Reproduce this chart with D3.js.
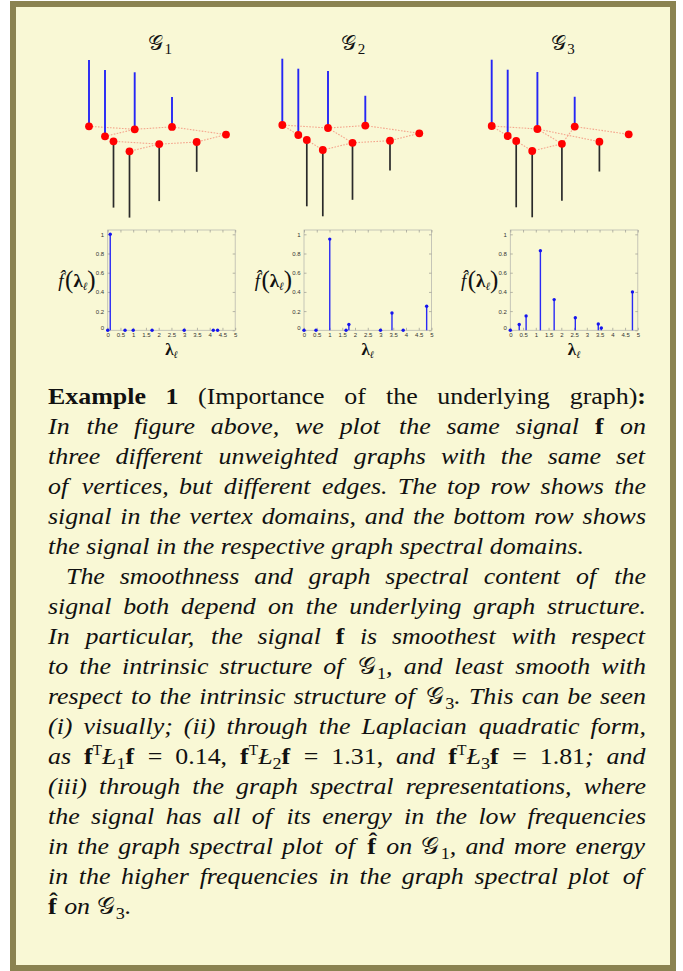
<!DOCTYPE html>
<html><head><meta charset="utf-8">
<script src="https://cdn.jsdelivr.net/npm/d3@7/dist/d3.min.js"></script>
<style>
body{margin:0;background:#fff}
svg{display:block}
</style></head><body>
<script>
// ================= DATA =================
const graphTitles = ["1", "2", "3"];             // subscripts of 𝒢
// vertex layout (shared by the three graphs, projected 3-D layout units)
const vertexX = [0, 16, 24.5, 40.5, 45.7, 70.2, 83, 107.7, 137];
const vertexY = [0, 10, 15, 25, 3, 17.8, 0.6, 15.7, 8.3];
// the signal f on the vertices
const signal = [1, 1, -1, -1, 0.86, -0.86, 0.45, -0.45, 0];
// edges of the three graphs
const edgesG1 = [[0,4],[1,4],[1,2],[4,6],[6,8],[8,7],[7,5],[5,2],[5,3]];
const edgesG2 = [[0,4],[0,1],[1,2],[2,3],[3,5],[4,5],[4,6],[6,8],[8,7],[7,5]];
const edgesG3 = [[0,4],[0,1],[1,2],[2,3],[3,5],[5,6],[6,8],[4,7],[4,5]];
// graph spectra and graph Fourier coefficients
const lambdaG1 = [0, 0.1, 0.68, 1.0, 1.74, 3.0, 4.14, 4.31];
const fhatG1   = [0, 1, 0, 0, 0, 0, 0, 0];
const lambdaG2 = [0, 0.47, 1.01, 1.65, 1.76, 3.0, 3.45, 3.89, 4.81];
const fhatG2   = [0, 0, 0.95, 0, 0.06, 0, 0.18, 0, 0.25];
const lambdaG3 = [0, 0.35, 0.62, 1.18, 1.72, 2.55, 3.45, 3.57, 4.79];
const fhatG3   = [0, 0.06, 0.15, 0.83, 0.32, 0.13, 0.065, 0.025, 0.40];
const xTicks = [0, 0.5, 1, 1.5, 2, 2.5, 3, 3.5, 4, 4.5, 5];
const yTicks = [0, 0.2, 0.4, 0.6, 0.8, 1];
// caption text (markup: {style:text})
const captionLines = [
  {d:"n", j:true,  ind:0,  t:"{b:Example} {b:1} (Importance of the underlying graph){b::}"},
  {d:"i", j:true,  ind:0,  t:"In the figure above, we plot the same signal {b:f} on"},
  {d:"i", j:true,  ind:0,  t:"three different unweighted graphs with the same set"},
  {d:"i", j:true,  ind:0,  t:"of vertices, but different edges. The top row shows the"},
  {d:"i", j:true,  ind:0,  t:"signal in the vertex domains, and the bottom row shows"},
  {d:"i", j:false, ind:0,  t:"the signal in the respective graph spectral domains."},
  {d:"i", j:true,  ind:18, t:"The smoothness and graph spectral content of the"},
  {d:"i", j:true,  ind:0,  t:"signal both depend on the underlying graph structure."},
  {d:"i", j:true,  ind:0,  t:"In particular, the signal {b:f} is smoothest with respect"},
  {d:"i", j:true,  ind:0,  t:"to the intrinsic structure of {cal:𝒢}{sub:1}, and least smooth with"},
  {d:"i", j:true,  ind:0,  t:"respect to the intrinsic structure of {cal:𝒢}{sub:3}. This can be seen"},
  {d:"i", j:true,  ind:0,  t:"(i) visually; (ii) through the Laplacian quadratic form,"},
  {d:"i", j:true,  ind:0,  t:"as {b:f}{sup:T}Ł{sub:1}{b:f} {n:=} {n:0.14,} {b:f}{sup:T}Ł{sub:2}{b:f} {n:=} {n:1.31,} and {b:f}{sup:T}Ł{sub:3}{b:f} {n:=} {n:1.81}; and"},
  {d:"i", j:true,  ind:0,  t:"(iii) through the graph spectral representations, where"},
  {d:"i", j:true,  ind:0,  t:"the signal has all of its energy in the low frequencies"},
  {d:"i", j:true,  ind:0,  t:"in the graph spectral plot of {hat:f̂} on {cal:𝒢}{sub:1}, and more energy"},
  {d:"i", j:true,  ind:0,  t:"in the higher frequencies in the graph spectral plot of"},
  {d:"i", j:false, ind:0,  t:"{hat:f̂} on {cal:𝒢}{sub:3}."}
];

// ================= LAYOUT =================
const W = 683, H = 971;
const svg = d3.select("body").append("svg").attr("width", W).attr("height", H);
svg.append("rect").attr("x",10).attr("y",1).attr("width",666).attr("height",970).attr("fill","#8b8351");
svg.append("rect").attr("x",16).attr("y",7).attr("width",654).attr("height",958).attr("fill","#f9f8d5");

const SERIF = "'Liberation Serif','Times New Roman',serif";
const CAL = "'DejaVu Serif','DejaVu Sans',serif";

// ---------- top row: signals on graphs ----------
const graphs = [edgesG1, edgesG2, edgesG3];
const graphOrigins = [[89,126.3],[282.3,125],[491.7,126]];
const stemLen = d3.scaleLinear().domain([0,1]).range([0,66.3]);
graphs.forEach((edges, gi) => {
  const [ox, oy] = graphOrigins[gi];
  const sx = d3.scaleLinear().domain([0,137]).range([ox, ox+137]);
  const sy = d3.scaleLinear().domain([0,25]).range([oy, oy+25]);
  const g = svg.append("g");
  // title
  const tt = g.append("text").attr("x", sx(71)).attr("y", 50).attr("text-anchor","middle")
    .attr("font-family", SERIF).attr("font-size", 21).attr("fill","#111");
  tt.append("tspan").attr("font-family", CAL).text("𝒢");
  tt.append("tspan").attr("font-size", 15).attr("dx", 1.5).attr("dy", 4).text(graphTitles[gi]);
  const pts = signal.map((v,i)=>({v,i}));
  // stems below (negative)
  g.selectAll("line.neg").data(pts.filter(d=>d.v<0)).join("line")
    .attr("x1", d=>sx(vertexX[d.i])).attr("x2", d=>sx(vertexX[d.i]))
    .attr("y1", d=>sy(vertexY[d.i])).attr("y2", d=>sy(vertexY[d.i]) + stemLen(-d.v))
    .attr("stroke","#2a2a2a").attr("stroke-width",1.7);
  // edges
  g.selectAll("line.edge").data(edges).join("line")
    .attr("x1", d=>sx(vertexX[d[0]])).attr("y1", d=>sy(vertexY[d[0]]))
    .attr("x2", d=>sx(vertexX[d[1]])).attr("y2", d=>sy(vertexY[d[1]]))
    .attr("stroke","#f4a58c").attr("stroke-width",1.1).attr("stroke-dasharray","1.6,1.4");
  // stems above (positive)
  g.selectAll("line.pos").data(pts.filter(d=>d.v>0)).join("line")
    .attr("x1", d=>sx(vertexX[d.i])).attr("x2", d=>sx(vertexX[d.i]))
    .attr("y1", d=>sy(vertexY[d.i])).attr("y2", d=>sy(vertexY[d.i]) - stemLen(d.v))
    .attr("stroke","#2626f5").attr("stroke-width",1.9);
  // vertices
  g.selectAll("circle").data(pts).join("circle")
    .attr("cx", d=>sx(vertexX[d.i])).attr("cy", d=>sy(vertexY[d.i]))
    .attr("r", 3.9).attr("fill","#ff0000");
});

// ---------- bottom row: spectral plots ----------
const spectra = [[lambdaG1,fhatG1],[lambdaG2,fhatG2],[lambdaG3,fhatG3]];
const specLeft = [107.7, 304, 510.3], specW = 127.5, specTop = 230, specBot = 330.3;
const SANS = "'Liberation Sans',Arial,sans-serif";
spectra.forEach(([lam, fh], pi) => {
  const L = specLeft[pi];
  const x = d3.scaleLinear().domain([0,5]).range([L, L+specW]);
  const y = d3.scaleLinear().domain([0,1.045]).range([specBot, specTop]);
  const g = svg.append("g");
  g.append("rect").attr("x",L).attr("y",specTop).attr("width",specW).attr("height",specBot-specTop)
    .attr("fill","none").attr("stroke","#b9b9b0").attr("stroke-width",0.8);
  const styleAxis = sel => {
    sel.select(".domain").remove();
    sel.selectAll(".tick line").attr("stroke","#9a9a90").attr("stroke-width",0.7);
    sel.selectAll(".tick text").attr("fill","#333").attr("font-family",SANS).attr("font-size",6);
  };
  g.append("g").attr("transform",`translate(0,${specBot})`)
    .call(d3.axisBottom(x).tickValues(xTicks).tickSize(-2.5).tickPadding(2.5).tickFormat(d=>String(d))).call(styleAxis);
  g.append("g").attr("transform",`translate(0,${specTop})`)
    .call(d3.axisTop(x).tickValues(xTicks).tickSize(-2.5).tickFormat("")).call(styleAxis);
  g.append("g").attr("transform",`translate(${L},0)`)
    .call(d3.axisLeft(y).tickValues(yTicks).tickSize(-2.5).tickPadding(3.5).tickFormat(d=>String(d))).call(styleAxis)
    .selectAll(".tick text").attr("dy", d => d === 0 ? "-0.1em" : "0.32em");
  g.append("g").attr("transform",`translate(${L+specW},0)`)
    .call(d3.axisRight(y).tickValues(yTicks).tickSize(-2.5).tickFormat("")).call(styleAxis);
  const pts = lam.map((l,i)=>({l, v:fh[i]}));
  g.selectAll("line.stem").data(pts).join("line")
    .attr("x1", d=>x(d.l)).attr("x2", d=>x(d.l)).attr("y1", y(0)).attr("y2", d=>y(d.v))
    .attr("stroke","#2a2af5").attr("stroke-width",1.4);
  g.selectAll("circle").data(pts).join("circle")
    .attr("cx", d=>x(d.l)).attr("cy", d=>y(d.v)).attr("r",1.7).attr("fill","#1515ee");
  // y label  f̂(λℓ)
  const yl = g.append("text").attr("x", L-12).attr("y", 287).attr("text-anchor","end")
    .attr("font-family", SERIF).attr("font-size", 19).attr("fill","#111");
  yl.append("tspan").attr("font-style","italic").text("f̂");
  yl.append("tspan").attr("font-size",25).attr("dx",1.5).attr("dy",1).text("(");
  yl.append("tspan").attr("font-weight","bold").attr("dy",-1).text("λ");
  yl.append("tspan").attr("font-size",11).attr("font-style","italic").attr("dy",3).text("ℓ");
  yl.append("tspan").attr("font-size",25).attr("dy",-2).text(")");
  // x label λℓ
  const xl = g.append("text").attr("x", L+specW/2).attr("y", 355).attr("text-anchor","middle")
    .attr("font-family", SERIF).attr("font-size", 17).attr("fill","#111");
  xl.append("tspan").attr("font-weight","bold").text("λ");
  xl.append("tspan").attr("font-size",10).attr("font-style","italic").attr("dy",3).text("ℓ");
});

// ---------- caption ----------
const FS = 24, SX = 1.08, LH = 30, TX0 = 48, TX1 = 646, TY0 = 404;
const cap = svg.append("g").attr("transform", `translate(${TX0},0) scale(${SX},1)`)
  .attr("font-family", SERIF).attr("font-size", FS).attr("fill","#111");
function parseWord(w, def) {
  const re = /\{(\w+):([^}]*)\}|([^{]+)/g; const out = []; let m;
  while ((m = re.exec(w)) !== null) {
    if (m[3] !== undefined) out.push([def, m[3]]); else out.push([m[1], m[2]]);
  }
  return out;
}
function renderWord(segs, yb) {
  const t = cap.append("text").attr("y", yb);
  let cur = 0, prev = null;
  segs.forEach(([s, txt]) => {
    const sp = t.append("tspan").text(txt);
    let shift = 0;
    if (s === "i") sp.attr("font-style","italic");
    if (s === "b" || s === "hat") sp.attr("font-weight","bold");
    if (s === "sub") { shift = 0.22*FS; sp.attr("font-size", FS*0.7); if (prev === "cal") sp.attr("dx", 1.5); }
    if (s === "sup") { shift = -0.36*FS; sp.attr("font-size", FS*0.6); }
    if (s === "cal") sp.attr("font-family", CAL).attr("font-size", FS*0.95);
    sp.attr("dy", shift - cur); cur = shift; prev = s;
  });
  return t;
}
const availLocal = (TX1 - TX0) / SX;
captionLines.forEach((ln, li) => {
  const yb = TY0 + li*LH;
  const words = ln.t.split(" ").map(w => renderWord(parseWord(w, ln.d), yb));
  const widths = words.map(t => t.node().getBBox().width);
  const total = d3.sum(widths);
  const avail = availLocal - ln.ind / SX;
  const gap = ln.j && words.length > 1 ? (avail - total)/(words.length-1) : 0.25*FS;
  let xx = ln.ind / SX;
  words.forEach((t,i) => { t.attr("x", xx); xx += widths[i] + gap; });
});
</script>
</body></html>
